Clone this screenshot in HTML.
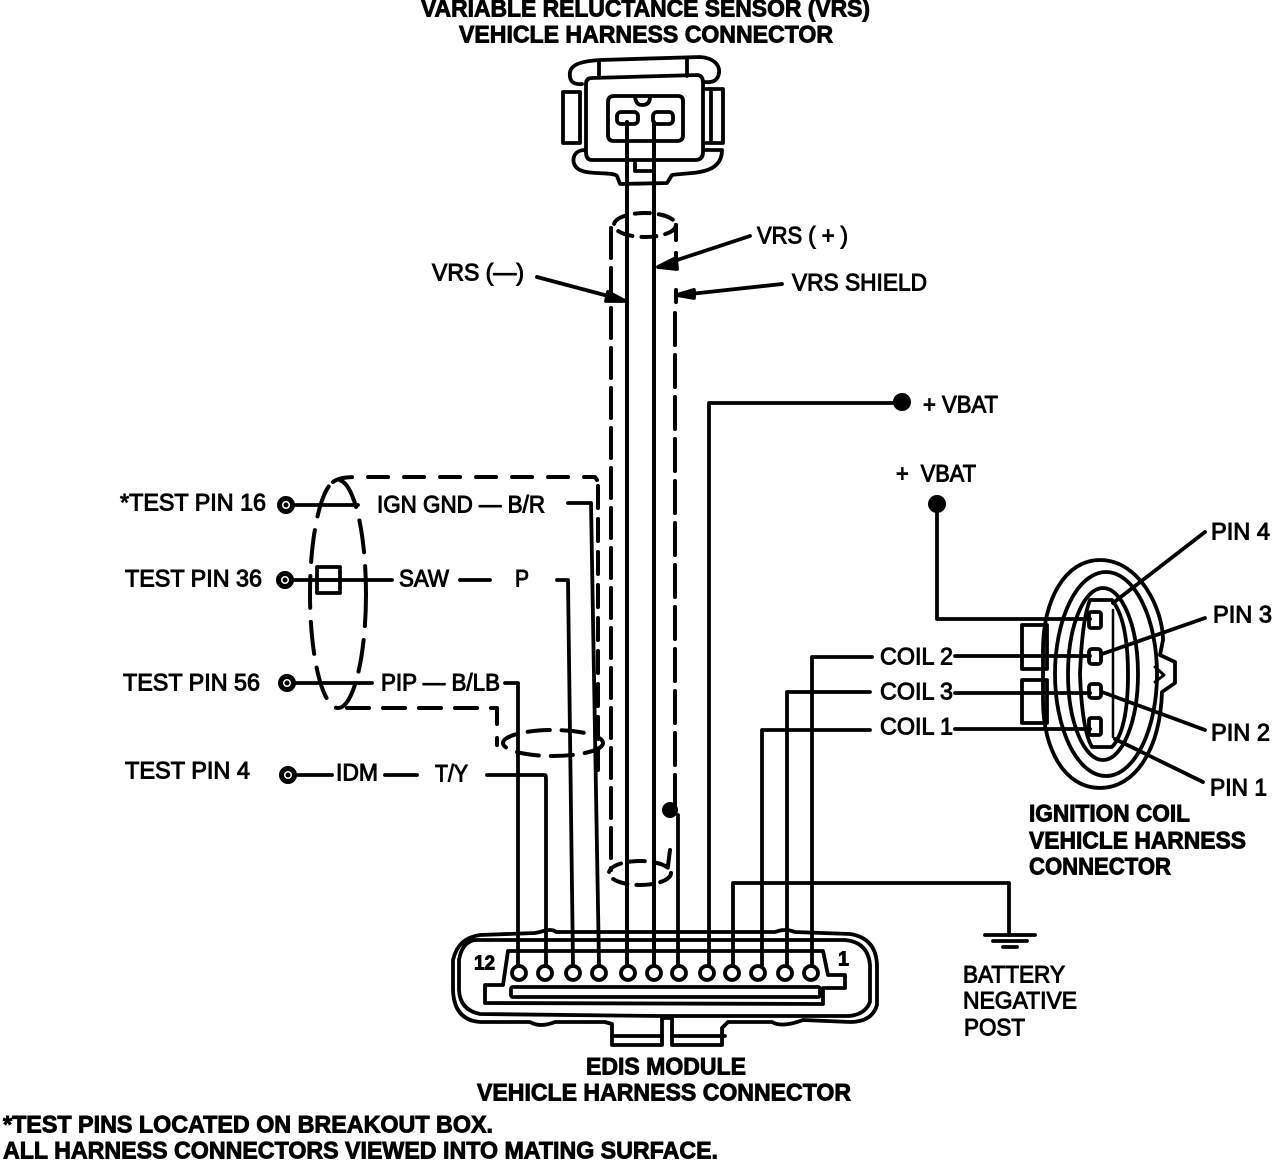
<!DOCTYPE html>
<html><head><meta charset="utf-8"><style>
html,body{margin:0;padding:0;background:#fff}
svg{display:block}
text{font-family:"Liberation Sans",sans-serif;font-size:24px;fill:#000;stroke:#000;stroke-width:1px}
.b{font-weight:bold;stroke-width:.9px}
</style></head><body>
<svg width="1280" height="1162" viewBox="0 0 1280 1162" xmlns="http://www.w3.org/2000/svg">
<g fill="none" stroke="#000" stroke-width="3.8" stroke-linejoin="round" stroke-linecap="round">
<!-- VRS connector -->
<path d="M582 84C572 85 569 80 570 72C572 63 585 61 600 60L700 57C714 58 720 65 719 73C718 80 713 83 705 82"/>
<path d="M599 61V76M687 59V76"/>
<path d="M592 78L698 75Q703 76 703 83V152Q703 160 695 160H592Q586 160 586 152V84Q586 78 592 78Z"/>
<path d="M614 96H678Q683 96 683 101V135Q683 141 677 141H614Q608 141 608 135V102Q608 96 614 96Z"/>
<rect x="617" y="112" width="21" height="12" rx="4"/>
<rect x="653" y="112" width="20" height="12" rx="4"/>
<path d="M635 97Q636 105 642 105Q650 105 650 97"/>
<path d="M580 92H563V143H580M580 92V143"/>
<path d="M706 89H723V143H706M711 89V143"/>
<path d="M585 150C572 150 571 163 577 168C585 176 612 171 617 176L620 184L667 183L672 175C690 172 722 176 722 150L704 150"/>
<path d="M635 163V171H651"/>
<!-- VRS wires -->
<path stroke-width="4" d="M627 122V965M654 122V965"/>
<!-- leaders -->
<path d="M750 236L668 263M537 277L612 297M782 284L690 294"/>
<path d="M658 267L676 258L677 269ZM625 301L608 292L606 301ZM677 295L694 290V298Z" fill="#000"/>
<!-- shield dashed -->
<g stroke-width="4">
<ellipse cx="645" cy="225" rx="31" ry="12" stroke-dasharray="15 9"/>
<path d="M611 228V300M611 308V870" stroke-dasharray="30 10"/>
<path d="M676 225V240M676 253V268" />
<path d="M676 290V302"/>
<path d="M675 313V810" stroke-dasharray="32 10"/>
<path d="M670 850L668 866"/>
<ellipse cx="640" cy="873" rx="31" ry="12" stroke-dasharray="15 9"/>
<path d="M598 486V770" stroke-dasharray="22 11"/>
<path d="M333 482C338 478 345 477 360 477H595L597 480" stroke-dasharray="20 16"/>
<path d="M347 708H497V745" stroke-dasharray="22 14"/>
<ellipse cx="553" cy="743" rx="50" ry="13" stroke-dasharray="22 12"/>
<ellipse cx="338" cy="594" rx="28" ry="114" stroke-dasharray="32 14"/>
</g>
<!-- left wires -->
<path d="M294 505H358M294 580H392M294 683H372M298 775H332M385 775H417M460 580H490M487 775H545Q546 775 546 780V965M505 683H518V965M557 580H568L573 965M568 503H591L599 965"/>
<rect x="317" y="567" width="23" height="26"/>
<path d="M317 580H340"/>
<g stroke-width="5">
<circle cx="286" cy="505" r="6.5"/><circle cx="285" cy="580" r="6.5"/><circle cx="287" cy="683" r="6.5"/><circle cx="288" cy="775" r="6.5"/>
</g>
<!-- right wires -->
<path d="M902 403H709V965M937 504V619H1090M955 656H1090M872 657H812V965M955 693H1090M870 692H787V965M955 729H1090M870 730H762V965M733 965V883H1009V935"/>
<path d="M985 935H1035M993 941H1027M1003 947H1017"/>
<path d="M678 815V965" />
<!-- EDIS connector -->
<path d="M540 932Q552 928 556 932H775Q785 928 795 932L850 934Q876 938 877 965V1005Q872 1022 850 1022L803 1020Q782 1028 772 1022L728 1022L722 1028V1045H672V1018H662V1045H612V1024L605 1022H555Q540 1028 530 1022H480Q454 1020 453 990V960Q458 938 480 935L535 933Z"/>
<path d="M475 940H845Q868 942 870 965V1002Q865 1015 848 1016H660L480 1014Q460 1010 459 990V960Q462 942 475 940Z"/>
<path d="M508 951H823L828 975H845V988H823V1004L485 1003V985H503Z"/>
<rect x="511" y="987" width="309" height="10" rx="2"/>
<path d="M612 1036H662M672 1036H725"/>
<g fill="#fff">
<circle cx="519" cy="973" r="7"/><circle cx="545" cy="973" r="7"/><circle cx="573" cy="973" r="7"/><circle cx="599" cy="973" r="7"/><circle cx="628" cy="973" r="7"/><circle cx="654" cy="973" r="7"/><circle cx="679" cy="973" r="7"/><circle cx="707" cy="973" r="7"/><circle cx="732" cy="973" r="7"/><circle cx="758" cy="973" r="7"/><circle cx="785" cy="973" r="7"/><circle cx="811" cy="973" r="7"/>
</g>
<!-- Coil connector -->
<path d="M1043 650C1043 600 1065 560 1100 560C1140 560 1163 610 1163 640L1160 655L1175 662V683L1162 692C1160 750 1135 788 1100 788C1065 788 1043 750 1043 700Z"/>
<path d="M1155 667L1164 675L1155 682" stroke-width="3"/>
<ellipse cx="1106" cy="674" rx="51" ry="102"/>
<ellipse cx="1103" cy="674" rx="35" ry="86"/>
<path d="M1090 600H1112Q1128 620 1128 674Q1128 730 1112 747H1092Q1082 730 1080 674Q1082 620 1090 600Z"/>
<path d="M1113 610V737" stroke-width="2.5"/>
<path d="M1022 625H1047V669H1022ZM1022 680H1047V723H1022Z"/>
<rect x="1089" y="612" width="12" height="16" rx="2"/>
<rect x="1089" y="649" width="12" height="15" rx="3"/>
<rect x="1089" y="684" width="12" height="14" rx="3"/>
<rect x="1089" y="718" width="12" height="17" rx="2"/>
<path d="M1205 532L1113 603M1205 618L1102 654M1205 730L1102 692M1203 782L1115 739"/>
</g>
<circle cx="902" cy="402" r="9"/><circle cx="937" cy="504" r="9"/><circle cx="670" cy="810" r="8"/>
<circle cx="286" cy="505" r="2.5"/><circle cx="285" cy="580" r="2.5"/><circle cx="287" cy="683" r="2.5"/><circle cx="288" cy="775" r="2.5"/>
<!-- Text -->
<g transform="translate(0,-0.7)">
<text class="b" x="421" y="17" textLength="449" lengthAdjust="spacingAndGlyphs">VARIABLE RELUCTANCE SENSOR (VRS)</text>
<text class="b" x="459" y="43" textLength="374" lengthAdjust="spacingAndGlyphs">VEHICLE HARNESS CONNECTOR</text>
<text x="757" y="244" textLength="91" lengthAdjust="spacingAndGlyphs">VRS ( + )</text>
<text x="432" y="281" textLength="92" lengthAdjust="spacingAndGlyphs">VRS (—)</text>
<text x="792" y="291" textLength="135" lengthAdjust="spacingAndGlyphs">VRS SHIELD</text>
<text x="923" y="413" textLength="75" lengthAdjust="spacingAndGlyphs">+ VBAT</text>
<text x="896" y="482" textLength="80" lengthAdjust="spacingAndGlyphs" xml:space="preserve">+  VBAT</text>
<text x="120" y="511" textLength="146" lengthAdjust="spacingAndGlyphs">*TEST PIN 16</text>
<text x="377" y="513" textLength="168" lengthAdjust="spacingAndGlyphs">IGN GND — B/R</text>
<text x="125" y="587" textLength="137" lengthAdjust="spacingAndGlyphs">TEST PIN 36</text>
<text x="399" y="587" textLength="50" lengthAdjust="spacingAndGlyphs">SAW</text>
<text x="515" y="587" textLength="14" lengthAdjust="spacingAndGlyphs">P</text>
<text x="123" y="691" textLength="137" lengthAdjust="spacingAndGlyphs">TEST PIN 56</text>
<text x="381" y="691" textLength="119" lengthAdjust="spacingAndGlyphs">PIP — B/LB</text>
<text x="125" y="779" textLength="125" lengthAdjust="spacingAndGlyphs">TEST PIN 4</text>
<text x="336" y="781" textLength="42" lengthAdjust="spacingAndGlyphs">IDM</text>
<text x="435" y="782" textLength="33" lengthAdjust="spacingAndGlyphs">T/Y</text>
<text x="1211" y="540" textLength="59" lengthAdjust="spacingAndGlyphs">PIN 4</text>
<text x="1213" y="623" textLength="59" lengthAdjust="spacingAndGlyphs">PIN 3</text>
<text x="1211" y="741" textLength="59" lengthAdjust="spacingAndGlyphs">PIN 2</text>
<text x="1210" y="796" textLength="57" lengthAdjust="spacingAndGlyphs">PIN 1</text>
<text x="880" y="665" textLength="73" lengthAdjust="spacingAndGlyphs">COIL 2</text>
<text x="880" y="700" textLength="73" lengthAdjust="spacingAndGlyphs">COIL 3</text>
<text x="880" y="735" textLength="73" lengthAdjust="spacingAndGlyphs">COIL 1</text>
<text class="b" x="1029" y="822" textLength="161" lengthAdjust="spacingAndGlyphs">IGNITION COIL</text>
<text class="b" x="1029" y="849" textLength="217" lengthAdjust="spacingAndGlyphs">VEHICLE HARNESS</text>
<text class="b" x="1029" y="875" textLength="142" lengthAdjust="spacingAndGlyphs">CONNECTOR</text>
<text x="963" y="983" textLength="102" lengthAdjust="spacingAndGlyphs">BATTERY</text>
<text x="963" y="1009" textLength="114" lengthAdjust="spacingAndGlyphs">NEGATIVE</text>
<text x="964" y="1036" textLength="61" lengthAdjust="spacingAndGlyphs">POST</text>
<text class="b" x="474" y="970" textLength="21" lengthAdjust="spacingAndGlyphs" style="font-size:20px">12</text>
<text class="b" x="838" y="966" textLength="11" lengthAdjust="spacingAndGlyphs" style="font-size:20px">1</text>
<text class="b" x="586" y="1075" textLength="160" lengthAdjust="spacingAndGlyphs">EDIS MODULE</text>
<text class="b" x="477" y="1101" textLength="374" lengthAdjust="spacingAndGlyphs">VEHICLE HARNESS CONNECTOR</text>
<text class="b" x="3" y="1133" textLength="490" lengthAdjust="spacingAndGlyphs">*TEST PINS LOCATED ON BREAKOUT BOX.</text>
<text class="b" x="3" y="1159" textLength="715" lengthAdjust="spacingAndGlyphs">ALL HARNESS CONNECTORS VIEWED INTO MATING SURFACE.</text>
</g>
</svg>
</body></html>
